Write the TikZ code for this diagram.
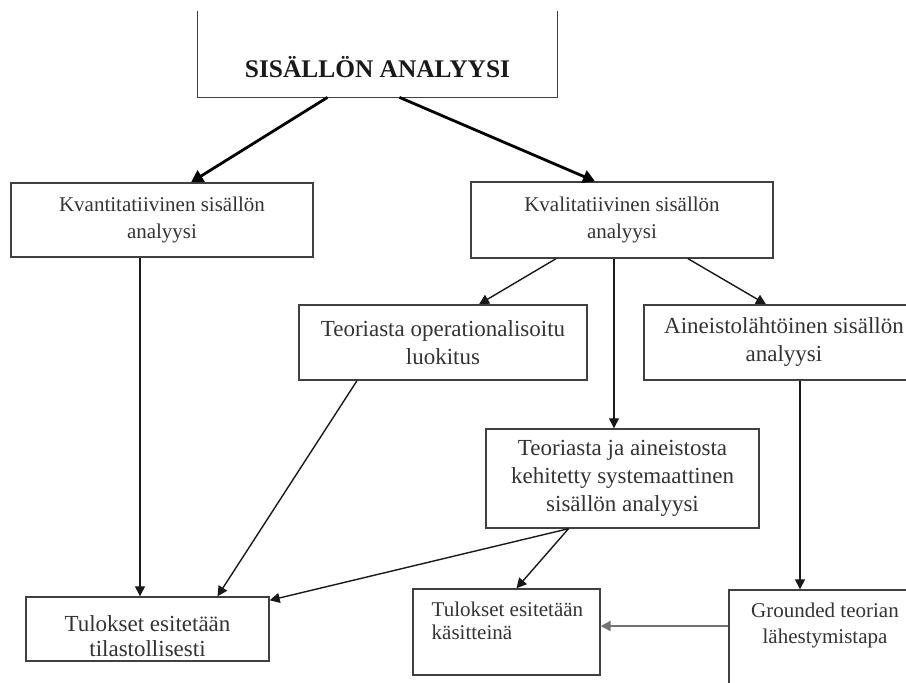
\documentclass[tikz,border=0pt]{standalone}
\usepackage{fontspec}
\setmainfont{Liberation Serif}
\usetikzlibrary{arrows.meta}

\begin{document}
\begin{tikzpicture}[x=0.5pt,y=-0.5pt,
    box/.style={draw=black!75, line width=0.7pt, inner sep=0pt, align=center, text=black!80},
    txt/.style={inner sep=0pt, text=black!80},
    arr/.style={draw=black!90, line width=0.7pt, -{Triangle[length=5pt,width=5pt]}},
    bigarr/.style={draw=black, line width=1.4pt, -{Triangle[length=6pt,width=6.5pt]}}
]
\path[use as bounding box] (0,0) rectangle (906,683);
\clip (0,0) rectangle (906,683);

% top box, open at the top
\node[inner sep=0pt, minimum width=179.5pt, text height=33.5pt, text depth=9.5pt,
      font=\fontsize{12.7}{14}\selectfont\bfseries, text=black!90] (top) at (377.5,54) {SISÄLLÖN ANALYYSI};
\draw[black!75, line width=0.7pt] (top.north west) -- (top.south west) -- (top.south east) -- (top.north east);

\node[box, minimum width=151pt, minimum height=37pt, font=\fontsize{10.5}{13.5}\selectfont] (kvanti) at (162,220) {Kvantitatiivinen sisällön\\analyysi};
\node[box, minimum width=151pt, minimum height=38pt, font=\fontsize{10.5}{13.5}\selectfont] (kvali) at (622,220) {Kvalitatiivinen sisällön\\analyysi};
\node[box, minimum width=144pt, minimum height=37.5pt, font=\fontsize{11.5}{14}\selectfont] (teorop) at (443,342.5) {Teoriasta operationalisoitu\\luokitus};
\node[box, minimum width=140pt, minimum height=37.5pt, font=\fontsize{11.5}{14}\selectfont] (aineisto) at (784,342.5) {Aineistolähtöinen sisällön\\analyysi};
\node[box, minimum width=136.5pt, minimum height=49.5pt, font=\fontsize{11.5}{14}\selectfont] (teorja) at (622.5,478.5) {Teoriasta ja aineistosta\\kehitetty systemaattinen\\sisällön analyysi};
\node[box, minimum width=121.5pt, minimum height=32pt] (tulstat) at (147.5,629) {};
\node[txt, align=center, font=\fontsize{11.5}{12.5}\selectfont] (tulstattext) at ([yshift=-3.5pt]tulstat.center) {Tulokset esitetään\\tilastollisesti};
\node[box, minimum width=93.5pt, minimum height=43pt] (tulkas) at (506.5,632) {};
\node[txt, anchor=north west, align=left, font=\fontsize{10.5}{11.5}\selectfont] (tulkastext) at ([xshift=9.5pt,yshift=-6.5pt]tulkas.north west) {Tulokset esitetään\\käsitteinä};
\node[box, minimum width=96pt, minimum height=65pt] (grounded) at (825,655) {};
\node[txt, anchor=north, align=center, font=\fontsize{10.5}{13}\selectfont] (groundedtext) at ([yshift=-6.5pt]grounded.north) {Grounded teorian\\lähestymistapa};
\coordinate (kasin) at ([yshift=3pt]tulkas.east);

% connectors
\draw[bigarr] ([xshift=-25pt]top.south) -- ([xshift=14.5pt]kvanti.north);
\draw[bigarr] ([xshift=11pt]top.south) -- ([xshift=-13.5pt]kvali.north);
\draw[arr] ([xshift=-11pt]kvanti.south) -- ([xshift=-11pt]kvanti.south |- tulstat.north);
\draw[arr] ([xshift=-33pt]kvali.south) -- ([xshift=18pt]teorop.north);
\draw[arr] ([xshift=-4pt]kvali.south) -- ([xshift=-4pt]kvali.south |- teorja.north);
\draw[arr] ([xshift=33pt]kvali.south) -- ([xshift=-9pt]aineisto.north);
\draw[arr] ([xshift=-43pt]teorop.south) -- ([xshift=35pt]tulstat.north);
\draw[arr] ([xshift=8pt]aineisto.south) -- ([xshift=8pt]aineisto.south |- grounded.north);
\draw[arr] ([xshift=-27pt]teorja.south) -- ([yshift=-2pt]tulstat.north east);
\draw[arr] ([xshift=-27pt]teorja.south) -- ([xshift=5pt]tulkas.north);
\draw[arr, draw=black!55, line width=1.1pt] (grounded.west |- kasin) -- (kasin);
\end{tikzpicture}
\end{document}
